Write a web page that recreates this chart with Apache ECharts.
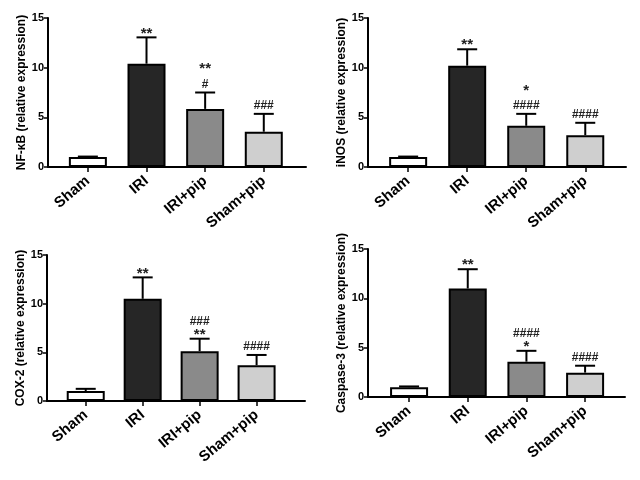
<!DOCTYPE html>
<html><head><meta charset="utf-8">
<script src="https://cdn.jsdelivr.net/npm/echarts@6/dist/echarts.min.js"></script>
<style>html,body{margin:0;padding:0;background:#fff}#c{width:640px;height:480px}</style>
</head><body><div id="c"></div>
<script>
const categories = ["Sham", "IRI", "IRI+pip", "Sham+pip"];
const yTicks = [0, 5, 10, 15];
const barColors = ["#ffffff", "#262626", "#8a8a8a", "#cfcfcf"];

const nfkbMean = [1.0, 10.4, 5.85, 3.55];
const nfkbSem  = [0.05, 2.65, 1.65, 1.8];
const nfkbMarks = [[], ["**"], ["#", "**"], ["###"]];

const inosMean = [1.0, 10.2, 4.15, 3.2];
const inosSem  = [0.05, 1.65, 1.2, 1.25];
const inosMarks = [[], ["**"], ["####", "*"], ["####"]];

const cox2Mean = [1.03, 10.5, 5.12, 3.68];
const cox2Sem  = [0.22, 2.2, 1.28, 1.05];
const cox2Marks = [[], ["**"], ["**", "###"], ["####"]];

const casp3Mean = [1.0, 11.0, 3.58, 2.47];
const casp3Sem  = [0.07, 1.95, 1.1, 0.7];
const casp3Marks = [[], ["**"], ["*", "####"], ["####"]];

const panels = [
  {name: "NF-\u03baB (relative expression)", mean: nfkbMean, sem: nfkbSem, marks: nfkbMarks,
   grid: {left: 48, top: 18, width: 258, height: 149}, xmin: -0.68, xmax: 3.72, gap: 20},
  {name: "iNOS (relative expression)", mean: inosMean, sem: inosSem, marks: inosMarks,
   grid: {left: 368, top: 18, width: 258, height: 149}, xmin: -0.68, xmax: 3.69, gap: 19},
  {name: "COX-2 (relative expression)", mean: cox2Mean, sem: cox2Sem, marks: cox2Marks,
   grid: {left: 47, top: 255, width: 258, height: 146}, xmin: -0.68, xmax: 3.85, gap: 9},
  {name: "Caspase-3 (relative expression)", mean: casp3Mean, sem: casp3Sem, marks: casp3Marks,
   grid: {left: 368, top: 249, width: 257, height: 148}, xmin: -0.70, xmax: 3.68, gap: 9}
];

const FONT = "Liberation Sans";
const grids = [], xAxes = [], yAxes = [], series = [];
panels.forEach((p, i) => {
  grids.push(Object.assign({containLabel: false}, p.grid));
  xAxes.push({
    type: "value", gridIndex: i, min: p.xmin, max: p.xmax,
    splitLine: {show: false},
    axisLine: {show: true, onZero: false, lineStyle: {color: "#000", width: 2}},
    axisTick: {show: true, length: 5, lineStyle: {color: "#000", width: 1.5}, customValues: [0, 1, 2, 3]},
    axisLabel: {
      customValues: [0, 1, 2, 3], rotate: 40, margin: 12,
      formatter: v => categories[Math.round(v)],
      fontFamily: FONT, fontWeight: "bold", fontSize: 15, color: "#000"
    }
  });
  yAxes.push({
    type: "value", gridIndex: i, min: 0, max: 15, interval: 5,
    name: p.name, nameLocation: "middle", nameGap: 17,
    nameTextStyle: {fontFamily: FONT, fontWeight: "bold", fontSize: 12, color: "#000"},
    splitLine: {show: false},
    axisLine: {show: true, onZero: false, lineStyle: {color: "#000", width: 2}},
    axisTick: {show: true, length: 4, lineStyle: {color: "#000", width: 1.5}},
    axisLabel: {fontFamily: FONT, fontWeight: "bold", fontSize: 11, color: "#000", margin: 4}
  });
  series.push({
    type: "bar", xAxisIndex: i, yAxisIndex: i, barWidth: 38,
    data: p.mean.map((v, k) => ({value: [k, v], itemStyle: {color: barColors[k]}})),
    itemStyle: {borderColor: "#000", borderWidth: 2},
    z: 2
  });
  series.push({
    type: "custom", xAxisIndex: i, yAxisIndex: i, z: 3,
    data: p.mean.map((v, k) => [k, v, v + p.sem[k]]),
    renderItem: (params, api) => {
      const k = params.dataIndex;
      const x = api.value(0);
      const b = api.coord([x, api.value(1)]);
      const t = api.coord([x, api.value(2)]);
      const children = [
        {type: "line", shape: {x1: b[0], y1: b[1], x2: t[0], y2: t[1]}, style: {stroke: "#000", lineWidth: 2}},
        {type: "line", shape: {x1: t[0] - 10, y1: t[1], x2: t[0] + 10, y2: t[1]}, style: {stroke: "#000", lineWidth: 2}}
      ];
      p.marks[k].forEach((m, j) => {
        const isStar = m.indexOf("*") >= 0;
        children.push({
          type: "text",
          style: {
            text: m, x: t[0], y: t[1] - 8 - j * p.gap + (isStar ? 4 : 0),
            align: "center", verticalAlign: "middle",
            fontFamily: FONT, fontWeight: "bold",
            fontSize: isStar ? 15 : 12, fill: "#222"
          }
        });
      });
      return {type: "group", children};
    }
  });
});

const chart = echarts.init(document.getElementById("c"), null, {renderer: "canvas"});
chart.setOption({
  backgroundColor: "#fff", animation: false,
  grid: grids, xAxis: xAxes, yAxis: yAxes, series
});
</script></body></html>
